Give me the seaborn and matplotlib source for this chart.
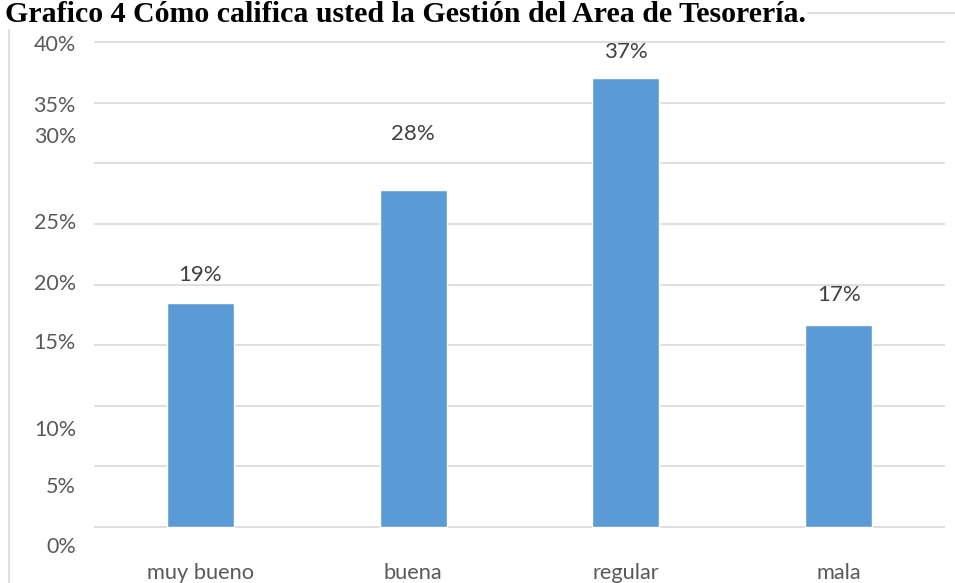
import matplotlib
matplotlib.use("Agg")
import matplotlib.pyplot as plt
import seaborn as sns
import pandas as pd
from matplotlib.patches import Rectangle

categories = ["muy bueno", "buena", "regular", "mala"]
values = [18.5, 27.8, 37.0, 16.7]
value_labels = ["19%", "28%", "37%", "17%"]
grid_values = [0, 5, 10, 15, 20, 25, 30, 35, 40]
ytick_labels = ["0%", "5%", "10%", "15%", "20%", "25%", "30%", "35%", "40%"]
title = "Grafico 4 Cómo califica usted la Gestión del Area de Tesorería."

# layout: where the (misaligned) y labels and value labels sit in the original
ytick_label_pos = [-1.5, 3.5, 8.2, 15.3, 20.2, 25.2, 32.3, 34.9, 39.9]
value_label_pos = [20.8, 32.4, 39.2, 19.1]

sns.set_theme(style="white")
plt.rcParams["font.family"] = ["Lato", "DejaVu Sans"]

W, H = 955, 583
fig = plt.figure(figsize=(W / 100, H / 100), dpi=100)
fig.patch.set_facecolor("white")

# outer chart frame
fig.patches.append(Rectangle((9 / W, -0.01), 1.0, 1 - 13 / H + 0.01, transform=fig.transFigure,
                             fill=False, edgecolor="#d9d9d9", linewidth=1.2, zorder=0))

ax_left, ax_right = 94 / W, 945 / W
ylo, yhi = -2.5, 40.2
ppu = (527 - 42) / 40.0
ax_top = 42 - (yhi - 40) * ppu
ax_bot = 527 - ylo * ppu
ax = fig.add_axes([ax_left, 1 - ax_bot / H, ax_right - ax_left, (ax_bot - ax_top) / H])
ax.set_facecolor("none")

df = pd.DataFrame({"cat": categories, "val": values})
for g in grid_values:
    ax.axhline(g, color="#d9d9d9", linewidth=1.2, zorder=0)
sns.barplot(data=df, x="cat", y="val", color="#5b9bd5", saturation=1, width=0.315, ax=ax, zorder=2)

ax.set_ylim(ylo, yhi)
ax.set_xlim(-0.5, 3.5)
for s in ax.spines.values():
    s.set_visible(False)
ax.set_xlabel("")
ax.set_ylabel("")
ax.set_yticks(ytick_label_pos)
ax.set_yticklabels(ytick_labels)
ax.tick_params(axis="y", length=0, pad=13, labelsize=15.5, labelcolor="#595959")
ax.tick_params(axis="x", length=0, pad=4, labelsize=15.7, labelcolor="#595959")
ax.grid(False)

for i, (lab, y) in enumerate(zip(value_labels, value_label_pos)):
    ax.text(i, y, lab, ha="center", va="center", fontsize=16, color="#404040")

fig.text(5 / W, 1 - 22 / H, title, ha="left", va="baseline", fontsize=21.5, fontweight="bold",
         family=["Liberation Serif", "DejaVu Serif"], color="black",
         bbox=dict(facecolor="white", edgecolor="none", pad=1))

fig.savefig("out.png", dpi=100)
